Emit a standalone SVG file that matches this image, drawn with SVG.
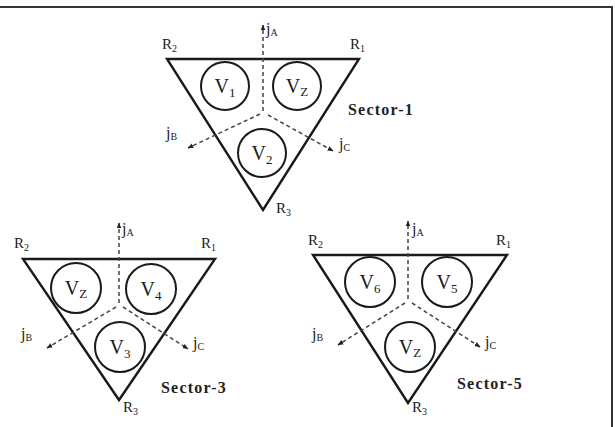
<svg xmlns="http://www.w3.org/2000/svg" width="615" height="427" viewBox="0 0 615 427">
<defs>
<style>
.tri{fill:none;stroke:#1a1a1a;stroke-width:2.4;stroke-linejoin:miter}
.cir{fill:none;stroke:#1a1a1a;stroke-width:2}
.dash{fill:none;stroke:#444;stroke-width:1.5;stroke-dasharray:4 3}
.v{font-family:"Liberation Serif",serif;font-size:20px;fill:#1a1a1a;text-anchor:middle}
.r{font-family:"Liberation Serif",serif;font-size:15px;fill:#222}
.j{font-family:"Liberation Serif",serif;font-size:16px;fill:#222}
.sec{font-family:"Liberation Serif",serif;font-size:16px;font-weight:bold;fill:#222;letter-spacing:1.2px}
.sub{font-size:10px}
.subv{font-size:13px}
</style>
<marker id="ah" viewBox="0 0 10 10" refX="9" refY="5" markerWidth="6" markerHeight="6" orient="auto" markerUnits="userSpaceOnUse">
<path d="M0,1 L10,5 L0,9 Z" fill="#222"/>
</marker>
</defs>
<rect width="615" height="427" fill="#fff"/>
<path d="M0,7 H612 V427" fill="none" stroke="#333" stroke-width="2"/>

<g id="sector1">
<path class="tri" d="M167,59 H359 L263,210 Z"/>
<circle class="cir" cx="225" cy="86" r="24"/>
<circle class="cir" cx="297" cy="86" r="24"/>
<circle class="cir" cx="262" cy="153" r="24"/>
<text class="v" x="225" y="93">V<tspan class="subv" dy="4">1</tspan></text>
<text class="v" x="297" y="93">V<tspan class="subv" dy="3">Z</tspan></text>
<text class="v" x="262" y="160">V<tspan class="subv" dy="4">2</tspan></text>
<text class="r" x="162" y="49">R<tspan class="sub" dy="3">2</tspan></text>
<text class="r" x="350" y="49">R<tspan class="sub" dy="3">1</tspan></text>
<text class="r" x="276" y="213">R<tspan class="sub" dy="3">3</tspan></text>
<text class="j" x="266" y="34">j<tspan class="sub" dy="2">A</tspan></text>
<text class="j" x="166" y="138">j<tspan class="sub" dy="2">B</tspan></text>
<text class="j" x="339" y="149">j<tspan class="sub" dy="2">C</tspan></text>
<text class="sec" x="348" y="115">Sector-1</text>
</g>

<g id="sector3">
<path class="tri" d="M23,259 H215 L119,400 Z"/>
<circle class="cir" cx="76" cy="288" r="25"/>
<circle class="cir" cx="151" cy="289" r="25"/>
<circle class="cir" cx="120" cy="347" r="25"/>
<text class="v" x="76" y="295">V<tspan class="subv" dy="3">Z</tspan></text>
<text class="v" x="151" y="296">V<tspan class="subv" dy="4">4</tspan></text>
<text class="v" x="120" y="354">V<tspan class="subv" dy="4">3</tspan></text>
<text class="r" x="14" y="248">R<tspan class="sub" dy="3">2</tspan></text>
<text class="r" x="201" y="248">R<tspan class="sub" dy="3">1</tspan></text>
<text class="r" x="123" y="412">R<tspan class="sub" dy="3">3</tspan></text>
<text class="j" x="122" y="234">j<tspan class="sub" dy="2">A</tspan></text>
<text class="j" x="21" y="339">j<tspan class="sub" dy="2">B</tspan></text>
<text class="j" x="193" y="348">j<tspan class="sub" dy="2">C</tspan></text>
<text class="sec" x="161" y="393">Sector-3</text>
</g>

<g id="sector5">
<path class="tri" d="M313,255 H507 L408,403 Z"/>
<circle class="cir" cx="370" cy="282" r="25"/>
<circle class="cir" cx="447" cy="282" r="25"/>
<circle class="cir" cx="410" cy="347" r="25"/>
<text class="v" x="370" y="289">V<tspan class="subv" dy="4">6</tspan></text>
<text class="v" x="447" y="289">V<tspan class="subv" dy="4">5</tspan></text>
<text class="v" x="410" y="354">V<tspan class="subv" dy="3">Z</tspan></text>
<text class="r" x="308" y="245">R<tspan class="sub" dy="3">2</tspan></text>
<text class="r" x="496" y="245">R<tspan class="sub" dy="3">1</tspan></text>
<text class="r" x="412" y="412">R<tspan class="sub" dy="3">3</tspan></text>
<text class="j" x="412" y="234">j<tspan class="sub" dy="2">A</tspan></text>
<text class="j" x="312" y="339">j<tspan class="sub" dy="2">B</tspan></text>
<text class="j" x="485" y="347">j<tspan class="sub" dy="2">C</tspan></text>
<text class="sec" x="457" y="389">Sector-5</text>
</g>

<g id="connectors">
<path class="dash" d="M263,111 V25" marker-end="url(#ah)"/>
<path class="dash" d="M260,114 L188,148" marker-end="url(#ah)"/>
<path class="dash" d="M268,115 L333,151" marker-end="url(#ah)"/>
<path class="dash" d="M119,303 V223" marker-end="url(#ah)"/>
<path class="dash" d="M116,307 L47,348" marker-end="url(#ah)"/>
<path class="dash" d="M123,307 L188,349" marker-end="url(#ah)"/>
<path class="dash" d="M408,299 V221" marker-end="url(#ah)"/>
<path class="dash" d="M405,303 L338,345" marker-end="url(#ah)"/>
<path class="dash" d="M412,303 L480,347" marker-end="url(#ah)"/>
</g>
</svg>
